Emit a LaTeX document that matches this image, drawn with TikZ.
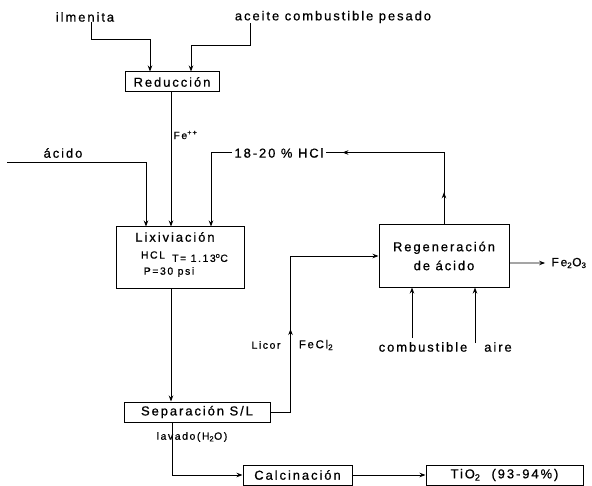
\documentclass[tikz,border=0pt]{standalone}
\usepackage{fontspec}
\setmainfont{Liberation Sans}[LetterSpace=15, FakeBold=0.7]
\usetikzlibrary{arrows.meta,decorations.markings}

\begin{document}
\begin{tikzpicture}[x=1bp,y=-1bp,
  line width=0.9bp,
  every node/.style={inner sep=0pt},
  lbl/.style={font=\fontsize{13}{15}\selectfont},
  sml/.style={font=\fontsize{10.5}{12}\selectfont},
  unit/.style={draw, line width=1bp, font=\fontsize{13}{15}\selectfont, minimum height=20bp},
  arr/.style={-{Stealth[length=6bp,width=4.5bp]}},
  midtip/.style={postaction={decorate}, decoration={markings,
    mark=at position #1 with {\arrow{Stealth[length=6bp,width=4.5bp]}}}},
  midtips/.style 2 args={postaction={decorate}, decoration={markings,
    mark=at position #1 with {\arrow{Stealth[length=6bp,width=4.5bp]}},
    mark=at position #2 with {\arrow{Stealth[length=6bp,width=4.5bp]}}}}
]
\useasboundingbox (0,0) rectangle (592,486);
\fill[white] (0,0) rectangle (592,486);

% feeds to the reduction step
\node[lbl] (ilm) at (85,17) {ilmenita};
\node[lbl] (ace) at (333,17) {aceite combustible pesado};
\node[unit, minimum width=94bp] (red) at (172,82) {Reducción};
\draw[arr] ([xshift=6bp]ilm.south) -- ++(0,17) -| ([xshift=-22bp]red.north);
\draw[arr] ([xshift=-83bp]ace.south) -- ++(0,22) -| ([xshift=19bp]red.north);

% leaching
\node[draw, line width=1bp, minimum width=128bp, minimum height=61bp] (lix) at (180,257.5) {};
\node[lbl] (lixt) at (175,237) {Lixiviación};
\node[sml] (hcl) at (153,255) {HCL};
\node[sml] (temp) at (200,258) {T= 1.13\textsuperscript{o}C};
\node[sml] (pres) at (169,272) {P=30 psi};

\draw[arr] ([xshift=-1bp]red.south) -- ([xshift=-1bp]red.south |- lix.north);
\node[sml, anchor=west] (fe) at (173,135) {Fe\textsuperscript{++}};

\node[lbl] (acl) at (63,153) {ácido};
\coordinate (acin) at (7,162);
\draw[arr] (acin) -| ([xshift=-34bp]lix.north);

% acid regeneration
\node[unit, minimum width=130bp, minimum height=62bp, align=center,
      font=\fontsize{13}{19}\selectfont] (reg) at (444,256) {Regeneración\\de ácido};
\draw[arr, midtips={0.085}{0.458}] (reg.north) -- ++(0,-72) -| ([xshift=31bp]lix.north);
\node[lbl, fill=white, inner xsep=3bp, inner ysep=2bp] (hcltxt) at (279,153) {18-20 \% HCl};

\node[font=\fontsize{12}{14}\selectfont] (fe2) at (569,263) {Fe\textsubscript{2}O\textsubscript{3}};
\draw[arr] ([yshift=-7bp]reg.east) -- ([xshift=-6bp]fe2.west);

\node[lbl] (comb) at (423,347) {combustible};
\node[lbl] (aire) at (498,347) {aire};
\coordinate (cbtop) at (412,338);
\coordinate (aitop) at (475,343);
\draw[arr] (cbtop) -- (cbtop |- reg.south);
\draw[arr] (aitop) -- (aitop |- reg.south);

% solid/liquid separation
\node[unit, minimum width=146bp] (sep) at (197,412) {Separación S/L};
\draw[arr] ([xshift=-9bp]lix.south) -- ([xshift=-9bp]lix.south |- sep.north);
\draw[arr, midtip=0.39] (sep.east) -- ++(20,0) |- (reg.west);
\node[sml] (lic) at (266,345) {Licor};
\node[font=\fontsize{11.5}{13}\selectfont] (fecl) at (316,345) {FeCl\textsubscript{2}};

% calcination and product
\node[unit, minimum width=109bp] (cal) at (297.5,475) {Calcinación};
\node[unit, minimum width=157bp] (tio) at (504.5,475) {TiO\textsubscript{2}\ \ (93-94\%)};
\node[sml] (lav) at (192,437) {lavado(H\textsubscript{2}O)};
\draw[arr] ([xshift=-25bp]sep.south) |- (cal.west);
\draw[arr] (cal.east) -- (tio.west);
\end{tikzpicture}
\end{document}
